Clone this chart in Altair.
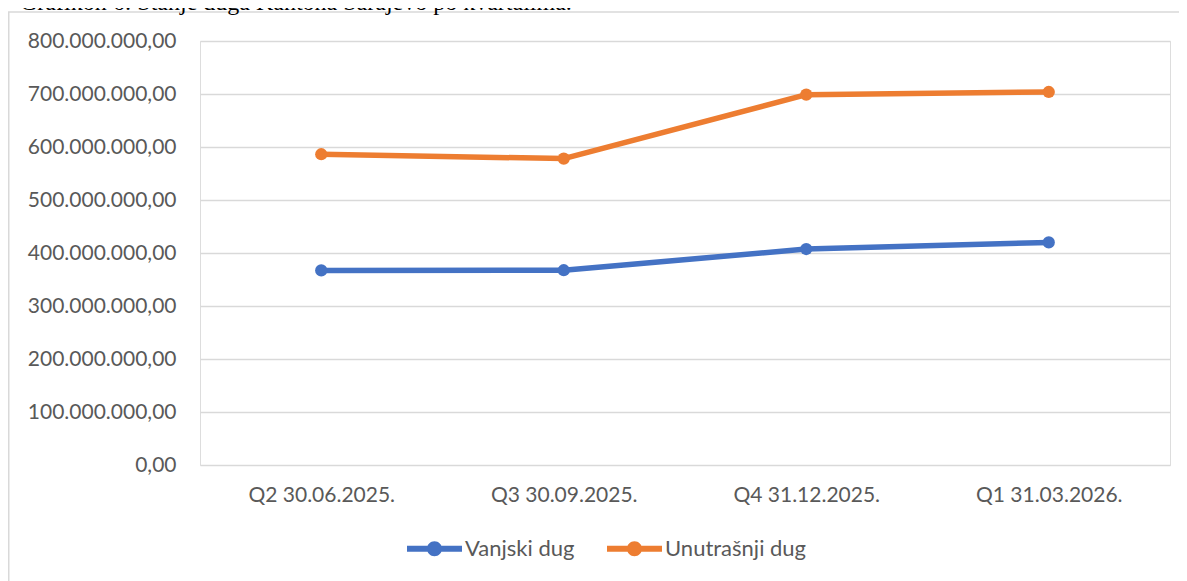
import altair as alt
import pandas as pd

categories = ["Q2 30.06.2025.", "Q3 30.09.2025.", "Q4 31.12.2025.", "Q1 31.03.2026."]
vanjski_dug = [367.2e6, 367.5e6, 407.5e6, 420.0e6]
unutrasnji_dug = [586.4e6, 578.1e6, 698.7e6, 703.8e6]
series_names = ["Vanjski dug", "Unutrašnji dug"]
series_colors = ["#4472C4", "#ED7D31"]
y_ticks = [0, 100e6, 200e6, 300e6, 400e6, 500e6, 600e6, 700e6, 800e6]
title_text = "Grafikon 6: Stanje duga Kantona Sarajevo po kvartalima."

rows = []
for name, vals in zip(series_names, [vanjski_dug, unutrasnji_dug]):
    for c, v in zip(categories, vals):
        rows.append({"kvartal": c, "serija": name, "iznos": v})
df = pd.DataFrame(rows)

W, H = 970, 424
PL, PT, PR, PB = 192, 33, 9, 116

label_expr = ("replace(replace(replace(format(datum.value, ',.2f'), regexp(',', 'g'), '#'), "
              "regexp('\\\\.', 'g'), ','), regexp('#', 'g'), '.')")

x_enc = alt.X("kvartal:N", sort=categories,
              scale=alt.Scale(type="point", padding=0.5),
              axis=alt.Axis(title=None, labelAngle=0, domain=False, ticks=False, grid=False,
                            labelFont="Lato", labelFontSize=21, labelColor="#595959",
                            labelPadding=19))
y_enc = alt.Y("iznos:Q", scale=alt.Scale(domain=[0, 800e6], nice=False, zero=True),
              axis=alt.Axis(title=None, values=y_ticks, domain=False, ticks=False,
                            grid=True, gridColor="#d9d9d9", gridWidth=1.6,
                            labelFont="Lato", labelFontSize=21, labelColor="#595959",
                            labelPadding=24, labelExpr=label_expr))
color_scale = alt.Scale(domain=series_names, range=series_colors)

legend_path = ("M-1,-0.11H1V0.11H-1Z "
               "M0.273,0A0.273,0.273,0,1,1,-0.273,0A0.273,0.273,0,1,1,0.273,0Z")

lines = alt.Chart(df).mark_line(strokeWidth=5.5, strokeJoin="round", strokeCap="round").encode(
    x=x_enc, y=y_enc,
    color=alt.Color("serija:N", scale=color_scale, legend=None),
    detail="serija:N",
)

points = alt.Chart(df).mark_point(shape="circle", filled=True, size=150, opacity=1,
                                  strokeWidth=0).encode(
    x=x_enc, y=y_enc,
    color=alt.Color("serija:N", scale=color_scale, sort=series_names,
                    legend=alt.Legend(orient="none", legendX=207, legendY=480,
                                      direction="horizontal", title=None,
                                      symbolType=legend_path, symbolSize=3025,
                                      symbolStrokeWidth=0, symbolOpacity=1,
                                      labelFont="Lato", labelFontSize=22,
                                      labelColor="#595959", labelOffset=3,
                                      columnPadding=32)),
)

frame_df = pd.DataFrame({"f": [0]})
frame = alt.Chart(frame_df).mark_rect(fill="transparent", stroke="#d9d9d9", strokeWidth=1.5).encode(
    x=alt.value(-PL + 0.75), x2=alt.value(W + 60),
    y=alt.value(-PT + 4), y2=alt.value(H + 200),
)
title = alt.Chart(frame_df).mark_text(text=title_text, font="Liberation Serif", fontSize=24,
                                       align="left", baseline="alphabetic", color="black").encode(
    x=alt.value(-PL + 12), y=alt.value(-PT + 2),
)

chart = alt.layer(frame, title, lines, points).resolve_legend(color="independent").properties(
    width=W, height=H, autosize="none",
    padding={"left": PL, "top": PT, "right": PR, "bottom": PB},
).configure_view(stroke=None).configure(background="white")

chart.save("out.html", embed_options={"renderer": "svg", "actions": False})
